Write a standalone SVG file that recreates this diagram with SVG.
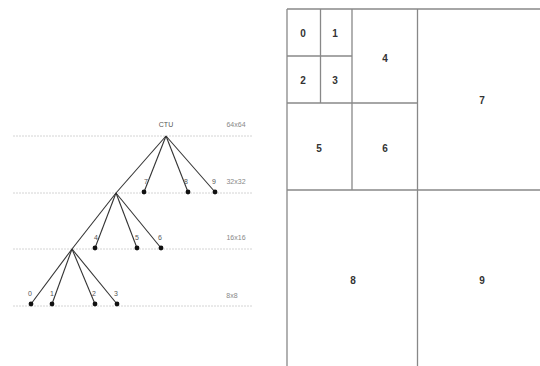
<svg xmlns="http://www.w3.org/2000/svg" width="540" height="366" viewBox="0 0 540 366">
<style>
.guide{stroke:#d4d4d4;stroke-width:1;stroke-dasharray:2 1;fill:none}
.edge{stroke:#333;stroke-width:1.1;fill:none}
.dot{fill:#111}
.lbl{font-family:"Liberation Sans",Arial,sans-serif;font-size:7px;fill:#555;text-anchor:middle}
.lvl{font-family:"Liberation Sans",Arial,sans-serif;font-size:7px;fill:#888;text-anchor:middle}
.grid{stroke:#888;stroke-width:1.3;fill:none}
.cell{font-family:"Liberation Sans",Arial,sans-serif;font-size:10px;font-weight:bold;fill:#333;text-anchor:middle}
</style>
<rect width="540" height="366" fill="#fff"/>
<g id="guides">
<line class="guide" x1="13" y1="136" x2="253" y2="136"/>
<line class="guide" x1="13" y1="193" x2="253" y2="193"/>
<line class="guide" x1="13" y1="249" x2="253" y2="249"/>
<line class="guide" x1="13" y1="306" x2="253" y2="306"/>
<text class="lvl" x="236" y="127">64x64</text>
<text class="lvl" x="236" y="184">32x32</text>
<text class="lvl" x="236" y="240">16x16</text>
<text class="lvl" x="232" y="298">8x8</text>
</g>
<g id="connectors">
<line class="edge" x1="166" y1="136" x2="116" y2="193"/>
<line class="edge" x1="166" y1="136" x2="144" y2="192"/>
<line class="edge" x1="166" y1="136" x2="188" y2="192"/>
<line class="edge" x1="166" y1="136" x2="215" y2="192"/>
<line class="edge" x1="116" y1="193" x2="72" y2="249"/>
<line class="edge" x1="116" y1="193" x2="95" y2="248"/>
<line class="edge" x1="116" y1="193" x2="137" y2="248"/>
<line class="edge" x1="116" y1="193" x2="161" y2="248"/>
<line class="edge" x1="72" y1="249" x2="31" y2="304"/>
<line class="edge" x1="72" y1="249" x2="52" y2="304"/>
<line class="edge" x1="72" y1="249" x2="95" y2="304"/>
<line class="edge" x1="72" y1="249" x2="117" y2="304"/>
</g>
<g id="n-root"><text class="lbl" x="166" y="127">CTU</text></g>
<g id="n7"><circle class="dot" cx="144" cy="192" r="2.4"/><text class="lbl" x="146" y="184">7</text></g>
<g id="n8"><circle class="dot" cx="188" cy="192" r="2.4"/><text class="lbl" x="186" y="184">8</text></g>
<g id="n9"><circle class="dot" cx="215" cy="192" r="2.4"/><text class="lbl" x="214" y="184">9</text></g>
<g id="n4"><circle class="dot" cx="95" cy="248" r="2.4"/><text class="lbl" x="96" y="240">4</text></g>
<g id="n5"><circle class="dot" cx="137" cy="248" r="2.4"/><text class="lbl" x="137" y="240">5</text></g>
<g id="n6"><circle class="dot" cx="161" cy="248" r="2.4"/><text class="lbl" x="160" y="240">6</text></g>
<g id="n0"><circle class="dot" cx="31" cy="304" r="2.4"/><text class="lbl" x="30" y="296">0</text></g>
<g id="n1"><circle class="dot" cx="52" cy="304" r="2.4"/><text class="lbl" x="52" y="296">1</text></g>
<g id="n2"><circle class="dot" cx="95" cy="304" r="2.4"/><text class="lbl" x="94" y="296">2</text></g>
<g id="n3"><circle class="dot" cx="117" cy="304" r="2.4"/><text class="lbl" x="116" y="296">3</text></g>
<g id="partition">
<line class="grid" x1="287" y1="9" x2="540" y2="9"/>
<line class="grid" x1="287" y1="9" x2="287" y2="366"/>
<line class="grid" x1="417.5" y1="9" x2="417.5" y2="366"/>
<line class="grid" x1="287" y1="190" x2="540" y2="190"/>
<line class="grid" x1="352" y1="9" x2="352" y2="190"/>
<line class="grid" x1="287" y1="103" x2="417.5" y2="103"/>
<line class="grid" x1="320.5" y1="9" x2="320.5" y2="103"/>
<line class="grid" x1="287" y1="56" x2="352" y2="56"/>
</g>
<g id="b0"><text class="cell" x="303" y="37">0</text></g>
<g id="b1"><text class="cell" x="335" y="37">1</text></g>
<g id="b2"><text class="cell" x="303" y="84">2</text></g>
<g id="b3"><text class="cell" x="335" y="84">3</text></g>
<g id="b4"><text class="cell" x="385" y="62">4</text></g>
<g id="b5"><text class="cell" x="319" y="152">5</text></g>
<g id="b6"><text class="cell" x="385" y="152">6</text></g>
<g id="b7"><text class="cell" x="482" y="104">7</text></g>
<g id="b8"><text class="cell" x="353" y="284">8</text></g>
<g id="b9"><text class="cell" x="482" y="284">9</text></g>
</svg>
